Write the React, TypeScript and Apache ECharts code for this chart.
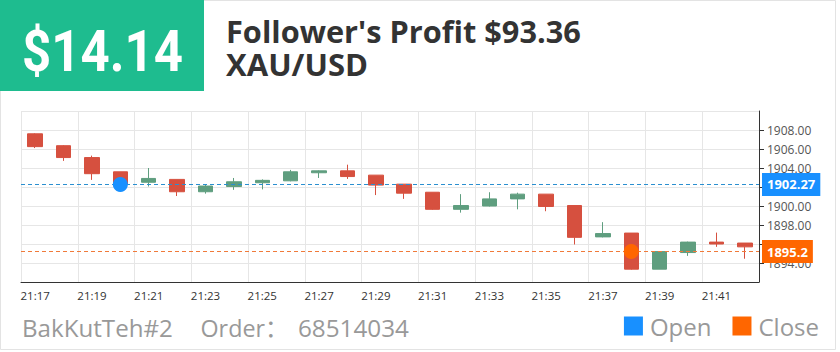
import React, { useEffect, useRef } from "react";
import * as echarts from "echarts";

// ---- data ----
const times: string[] = [
  "21:17", "21:18", "21:19", "21:20", "21:21", "21:22", "21:23", "21:24", "21:25",
  "21:26", "21:27", "21:28", "21:29", "21:30", "21:31", "21:32", "21:33", "21:34",
  "21:35", "21:36", "21:37", "21:38", "21:39", "21:40", "21:41", "21:42",
];
const opens: number[] = [
  1907.6, 1906.35, 1905.1, 1903.6, 1902.5, 1902.8, 1901.5, 1902.05, 1902.45,
  1902.65, 1903.5, 1903.7, 1903.25, 1902.3, 1901.45, 1899.65, 1900.0, 1900.75,
  1901.25, 1900.05, 1896.75, 1897.15, 1893.35, 1895.1, 1896.2, 1896.1,
];
const closes: number[] = [
  1906.25, 1905.1, 1903.4, 1902.3, 1902.9, 1901.5, 1902.1, 1902.55, 1902.7,
  1903.6, 1903.7, 1903.1, 1902.2, 1901.35, 1899.65, 1900.05, 1900.75, 1901.25,
  1899.95, 1896.7, 1897.1, 1893.35, 1895.2, 1896.2, 1896.0, 1895.7,
];
const lows: number[] = [
  1906.1, 1904.75, 1902.75, 1902.2, 1902.05, 1901.05, 1901.3, 1901.7, 1901.75,
  1902.6, 1902.95, 1902.85, 1901.15, 1900.75, 1899.6, 1899.3, 1899.95, 1899.65,
  1899.45, 1895.95, 1896.7, 1893.3, 1893.35, 1894.75, 1895.7, 1894.45,
];
const highs: number[] = [
  1907.65, 1906.4, 1905.3, 1903.6, 1904.0, 1902.8, 1902.3, 1902.95, 1902.8,
  1903.8, 1903.75, 1904.35, 1903.25, 1902.3, 1901.45, 1901.25, 1901.45, 1901.4,
  1901.25, 1900.05, 1898.3, 1897.15, 1895.25, 1896.25, 1897.2, 1896.1,
];
const openTime = "21:20";
const openPrice = 1902.27;
const closeTime = "21:38";
const closePrice = 1895.2;
const yMin = 1892;
const yMax = 1910;
const yStep = 2;

const profitText = "$14.14";
const titleText = "Follower's Profit $93.36";
const symbolText = "XAU/USD";
const followerText = "BakKutTeh#2";
const orderLabel = "Order：";
const orderNumber = "68514034";
const legendNames: string[] = ["Open", "Close"];

// ---- helpers ----
function measure(text: string, font: string): number {
  const c = document.createElement("canvas").getContext("2d");
  if (!c) return 1;
  c.font = font;
  return c.measureText(text).width || 1;
}
function fit(text: string, font: string, target: number): number {
  return target / measure(text, font);
}

const GREEN = "#5f9e7f";
const RED = "#d6503f";
const BLUE = "#1890ff";
const ORANGE = "#ff6600";

export default function App() {
  const ref = useRef<HTMLDivElement>(null);
  useEffect(() => {
    document.body.style.margin = "0";
    const el = ref.current;
    if (!el) return;
    const chart = echarts.init(el, null, { renderer: "svg", width: 840, height: 352 });

    const candleData = times.map((_, i) => [opens[i], closes[i], lows[i], highs[i]]);

    const profitFont = "bold 57px Roboto";
    const titleFont = "bold 31px 'Open Sans'";
    const footFont = "24px 'Open Sans', 'Noto Sans CJK SC'";
    const footScale = fit("Order", footFont, 64.5);

    const option: any = {
      animation: false,
      backgroundColor: "#fff",
      grid: { left: 21, right: 81, top: 111, bottom: 70, containLabel: false, outerBoundsMode: "none" },
      legend: {
        right: 21,
        top: 314,
        icon: "rect",
        itemWidth: 19,
        itemHeight: 19,
        itemGap: 21,
        padding: 0,
        itemStyle: { borderWidth: 0 },
        data: legendNames.map((n) => ({ name: n, icon: "rect" })),
        textStyle: { fontFamily: "'Open Sans'", fontSize: 24, color: "#999", lineHeight: 19, padding: [0, 0, 0, 2] },
      },
      xAxis: {
        type: "category",
        data: times,
        boundaryGap: true,
        axisLine: { lineStyle: { color: "#333" } },
        axisTick: { alignWithLabel: true, interval: 1, length: 5, lineStyle: { color: "#333" } },
        axisLabel: { interval: 1, fontSize: 11.5, color: "#333", margin: 7, fontFamily: "'Open Sans'" },
        splitLine: { show: true, interval: 1, lineStyle: { color: "#e6e6e6" } },
      },
      yAxis: {
        type: "value",
        position: "right",
        min: yMin,
        max: yMax,
        interval: yStep,
        axisLine: { show: true, lineStyle: { color: "#333" } },
        axisTick: { show: true, length: 5, lineStyle: { color: "#333" } },
        axisLabel: {
          showMinLabel: false,
          showMaxLabel: false,
          fontSize: 12,
          color: "#555",
          margin: 8,
          fontFamily: "'Open Sans'",
          formatter: (v: number) => v.toFixed(2),
        },
        splitLine: { show: true, lineStyle: { color: "#e6e6e6" } },
      },
      series: [
        {
          name: "XAU/USD",
          type: "candlestick",
          data: candleData,
          barWidth: 15,
          itemStyle: {
            color: GREEN,
            color0: RED,
            borderColor: GREEN,
            borderColor0: RED,
            borderWidth: 1,
          },
        },
        {
          name: legendNames[0],
          type: "scatter",
          legendIcon: "rect",
          data: [[openTime, openPrice]],
          symbolSize: 15,
          itemStyle: { color: BLUE, opacity: 1 },
          z: 5,
          markLine: {
            silent: true,
            symbol: ["none", "none"],
            data: [{ yAxis: openPrice }],
            lineStyle: { color: "#2a8fd0", type: [4, 3], width: 1 },
            label: {
              position: "end",
              distance: 3,
              backgroundColor: BLUE,
              color: "#fff",
              fontWeight: "bold",
              fontSize: 13,
              lineHeight: 13,
              fontFamily: "'Open Sans'",
              padding: [5, 5],
            },
          },
        },
        {
          name: legendNames[1],
          type: "scatter",
          legendIcon: "rect",
          data: [[closeTime, closePrice]],
          symbolSize: 15,
          itemStyle: { color: ORANGE, opacity: 1 },
          z: 5,
          markLine: {
            silent: true,
            symbol: ["none", "none"],
            data: [{ yAxis: closePrice }],
            lineStyle: { color: "#f07a3a", type: [4, 3], width: 1 },
            label: {
              position: "end",
              distance: 3,
              backgroundColor: ORANGE,
              color: "#fff",
              fontWeight: "bold",
              fontSize: 13,
              lineHeight: 13,
              fontFamily: "'Open Sans'",
              padding: [5, 5],
            },
          },
        },
      ],
      graphic: [
        {
          type: "rect",
          z: -10,
          shape: { x: 0.5, y: 0.5, width: 835, height: 349 },
          style: { fill: "none", stroke: "#e3e3e3", lineWidth: 1 },
        },
        {
          type: "rect",
          shape: { x: 0, y: 0, width: 204, height: 91 },
          style: { fill: "#1ebc8f" },
        },
        {
          type: "text",
          x: 22,
          y: 51.5,
          scaleX: fit(profitText, profitFont, 161),
          style: { text: profitText, font: profitFont, fill: "#fff", verticalAlign: "middle", align: "left" },
        },
        {
          type: "text",
          x: 226,
          y: 31,
          scaleX: fit(titleText, titleFont, 355),
          style: { text: titleText, font: titleFont, fill: "#333", verticalAlign: "middle", align: "left" },
        },
        {
          type: "text",
          x: 226,
          y: 64,
          scaleX: fit(symbolText, titleFont, 142),
          style: { text: symbolText, font: titleFont, fill: "#333", verticalAlign: "middle", align: "left" },
        },
        {
          type: "text",
          x: 22,
          y: 328,
          scaleX: fit(followerText, footFont, 151),
          style: { text: followerText, font: footFont, fill: "#999", verticalAlign: "middle", align: "left" },
        },
        {
          type: "text",
          x: 200.5,
          y: 328,
          scaleX: footScale,
          style: { text: orderLabel, font: footFont, fill: "#999", verticalAlign: "middle", align: "left" },
        },
        {
          type: "text",
          x: 298,
          y: 328,
          scaleX: fit(orderNumber, footFont, 111),
          style: { text: orderNumber, font: footFont, fill: "#999", verticalAlign: "middle", align: "left" },
        },
      ],
    };
    chart.setOption(option);
    return () => chart.dispose();
  }, []);
  return <div ref={ref} style={{ position: "absolute", left: 0, top: 0, width: 840, height: 352 }} />;
}
